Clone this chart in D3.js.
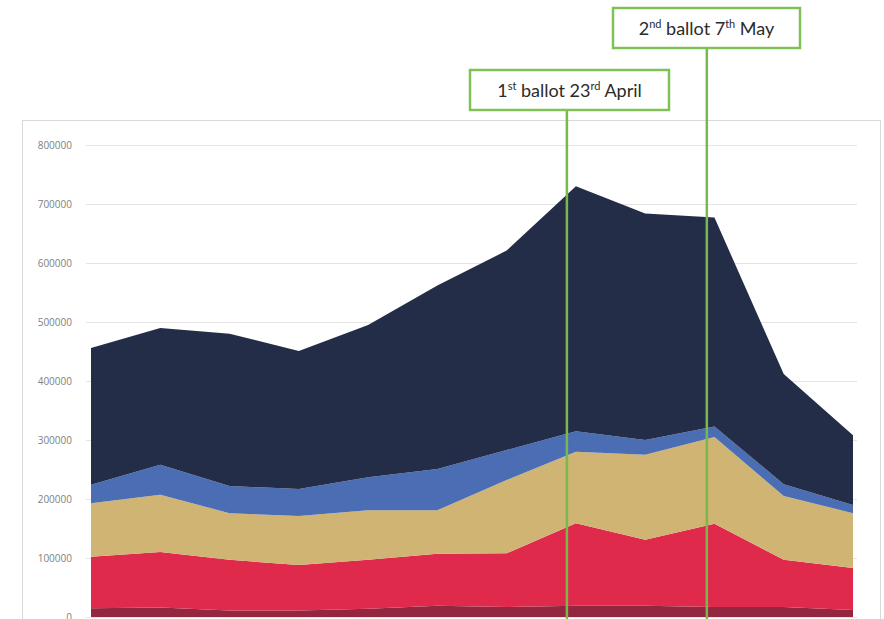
<!DOCTYPE html>
<html>
<head>
<meta charset="utf-8">
<script src="https://cdn.jsdelivr.net/npm/d3@7"></script>
<style>
  body { margin: 0; background: #fff; }
  svg { display: block; font-family: "Open Sans", "Liberation Sans", sans-serif; }
</style>
</head>
<body>
<div class="chart"></div>
<script>
// periods along the x axis (labels are cut off in the original)
var periods = ["P1","P2","P3","P4","P5","P6","P7","P8","P9","P10","P11","P12"];

// series values, bottom to top
var seriesNames = ["s1", "s2", "s3", "s4", "s5"];
var s1 = [15000, 16000, 11000, 11000, 14000, 19000, 17000, 19000, 19000, 17000, 17000, 12000];
var s2 = [87000, 94000, 86000, 77000, 83000, 88000, 91000, 140000, 112000, 141000, 80000, 71000];
var s3 = [91000, 97000, 79000, 83000, 84000, 74000, 124000, 121000, 144000, 147000, 108000, 93000];
var s4 = [31000, 51000, 46000, 46000, 56000, 70000, 51000, 35000, 25000, 18000, 20000, 14000];
var s5 = [232000, 232000, 258000, 234000, 258000, 311000, 338000, 415000, 384000, 354000, 187000, 118000];
var colors = ["#942640", "#df2a4c", "#d0b473", "#4a6db4", "#232d47"];

var yTicks = [0, 100000, 200000, 300000, 400000, 500000, 600000, 700000, 800000];

// ballot markers, position given as fractional period index
var ballots = [
  { pos: 6.87, num: "1", sup: "st", rest: " ballot 23", sup2: "rd", end: " April" },
  { pos: 8.89, num: "2", sup: "nd", rest: " ballot 7", sup2: "th", end: " May" }
];

const width = 884;
const height = 619;

var table = periods.map(function(p, i) {
  return { period: p, s1: s1[i], s2: s2[i], s3: s3[i], s4: s4[i], s5: s5[i] };
});

const svg = d3.select('.chart')
  .append('svg')
  .attr('width', width)
  .attr('height', height)

// plot frame
svg.append("rect")
  .attr("x", 22.5)
  .attr("y", 120.5)
  .attr("width", 858)
  .attr("height", 520)
  .attr("fill", "none")
  .attr("stroke", "#d9d9d9")

const x = d3.scalePoint()
  .domain(periods)
  .range([91, 853])

const y = d3.scaleLinear()
  .domain([0, 800000])
  .range([617, 145])

// gridlines
svg.selectAll("line.grid")
  .data(yTicks)
  .enter()
  .append("line")
  .attr("class", "grid")
  .attr("x1", 86)
  .attr("x2", 857)
  .attr("y1", d => y(d) + 0.5)
  .attr("y2", d => y(d) + 0.5)
  .attr("stroke", "#e4e4e4")
  .attr("stroke-width", 1)

// y axis labels
const yAxis = d3.axisLeft(y)
  .tickValues(yTicks)
  .tickFormat(d3.format("d"))
  .tickSize(0)
  .tickPadding(0)

const gy = svg.append("g")
  .attr("transform", "translate(72,0)")
  .call(yAxis)
gy.select(".domain").remove()
gy.selectAll("text")
  .attr("fill", "#7f7f7f")
  .attr("font-size", 10)
  .attr("font-family", "'Open Sans', 'Liberation Sans', sans-serif")

const stack = d3.stack().keys(seriesNames)
const layers = stack(table)

const area = d3.area()
  .x(d => x(d.data.period))
  .y0(d => y(d[0]))
  .y1(d => y(d[1]))

svg.selectAll("path.layer")
  .data(layers)
  .enter()
  .append("path")
  .attr("class", "layer")
  .attr("d", area)
  .attr("fill", (d, i) => colors[i])

// ballot markers
const xIdx = d3.scaleLinear()
  .domain([0, periods.length - 1])
  .range(x.range())

var boxes = [
  { bx: 470, by: 70, bw: 199, bh: 40 },
  { bx: 613, by: 8, bw: 187, bh: 40 }
];

ballots.forEach(function(b, i) {
  var lx = xIdx(b.pos);
  var box = boxes[i];
  svg.append("line")
    .attr("x1", lx)
    .attr("x2", lx)
    .attr("y1", box.by + box.bh)
    .attr("y2", height)
    .attr("stroke", "#78b94b")
    .attr("stroke-width", 2.5)

  svg.append("rect")
    .attr("x", box.bx)
    .attr("y", box.by)
    .attr("width", box.bw)
    .attr("height", box.bh)
    .attr("fill", "#fff")
    .attr("stroke", "#7fc156")
    .attr("stroke-width", 2.5)

  var t = svg.append("text")
    .attr("x", box.bx + box.bw / 2)
    .attr("y", box.by + 27)
    .attr("text-anchor", "middle")
    .attr("font-family", "Lato, 'Open Sans', sans-serif")
    .attr("font-size", 18)
    .attr("fill", "#2b2b2b")
  t.append("tspan").text(b.num)
  t.append("tspan").text(b.sup).attr("font-size", 11).attr("dy", -7)
  t.append("tspan").text(b.rest).attr("dy", 7)
  t.append("tspan").text(b.sup2).attr("font-size", 11).attr("dy", -7)
  t.append("tspan").text(b.end).attr("dy", 7)
});
</script>
</body>
</html>
